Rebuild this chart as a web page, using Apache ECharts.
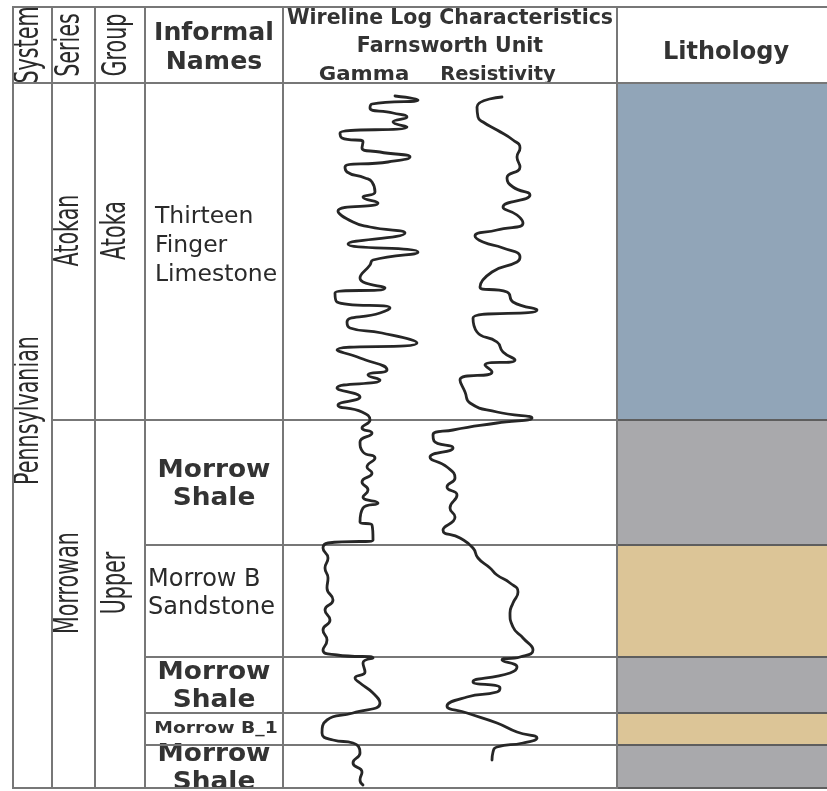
<!DOCTYPE html>
<html><head><meta charset="utf-8">
<script src="https://cdn.jsdelivr.net/npm/echarts@6/dist/echarts.min.js"></script>
<style>html,body{margin:0;padding:0;background:#fff}#c{width:827px;height:791px}</style>
</head><body><div id="c"></div>
<script>
// ---------------- DATA ----------------
const headerLabels = ['System', 'Series', 'Group', 'Informal\nNames', 'Wireline Log Characteristics\nFarnsworth Unit', 'Lithology'];
const trackLabels = ['Gamma', 'Resistivity'];

const systemNames = ['Pennsylvanian'];
const systemTops = [0];
const systemBases = [705];

const seriesNames = ['Atokan', 'Morrowan'];
const seriesTops = [0, 337];
const seriesBases = [337, 705];

const groupNames = ['Atoka', 'Upper'];
const groupTops = [0, 337];
const groupBases = [337, 705];

const formationNames = ['Thirteen\nFinger\nLimestone', 'Morrow\nShale', 'Morrow B\nSandstone', 'Morrow\nShale', 'Morrow B_1', 'Morrow\nShale'];
const formationTops = [0, 337, 462, 574, 630, 662];
const formationBases = [337, 462, 574, 630, 662, 705];
const lithology = ['Limestone', 'Shale', 'Sandstone', 'Shale', 'Sandstone', 'Shale'];

// Gamma ray log (depth below top of section, log value)
const gammaDepth = [13,17,21,25,30,34,39,44,50,55,59,65,69,74,79,84,89,95,99,109,114,120,128,139,144,150,161,169,177,182,195,205,210,219,225,230,239,245,250,260,267,275,287,292,297,305,314,322,329,337,345,350,359,369,375,384,390,399,407,414,420,425,439,442,457,460,465,475,485,495,505,517,527,537,547,557,567,572,575,580,589,595,600,610,620,630,637,650,657,660,670,680,689,697,702];
const gammaValue = [112,135,89,87,110,124,110,124,57,59,80,79,97,127,105,62,64,82,89,92,80,95,55,70,87,122,65,135,90,87,77,102,52,54,107,97,64,67,99,134,54,77,104,85,97,54,77,55,79,87,79,89,77,80,92,84,89,79,85,80,95,80,77,89,90,45,40,45,42,45,44,50,42,47,40,44,40,54,90,80,82,72,77,90,97,70,44,39,50,70,77,70,79,77,80];

// Resistivity log
const resDepth = [14,24,34,39,47,57,65,74,84,95,104,112,124,132,140,147,153,159,165,174,179,189,204,209,219,227,235,249,259,269,277,282,289,297,309,320,329,335,340,347,352,358,365,374,384,395,404,412,425,434,447,455,465,475,485,492,500,509,520,530,544,555,567,574,577,584,590,599,605,609,614,623,630,640,649,655,660,664,669,677];
const resValue = [219,194,195,200,214,230,237,234,237,224,230,247,220,234,240,214,192,200,220,237,234,209,197,224,230,254,190,194,214,220,232,202,209,177,182,187,214,249,214,170,150,151,170,147,164,172,164,174,167,172,160,177,190,195,207,214,227,235,230,227,230,240,250,237,219,234,227,190,217,214,184,164,184,214,234,254,240,214,210,209];

// ---------------- LAYOUT & STYLE ----------------
const COL = [13, 52, 95, 145, 283, 617, 827];
const LITH_COLOR = { Limestone: '#91a5b8', Shale: '#a9a9ac', Sandstone: '#dcc597' };
const NAME_KIND = ['left1', 'bold', 'left2', 'bold', 'small', 'bold'];
const TRACK_LABEL_X = [364, 498];
const SANS = "'DejaVu Sans', sans-serif";
const NARROW = "'Liberation Sans Narrow', 'DejaVu Sans Condensed', sans-serif";
const TXT = '#333';

const cells = [];
headerLabels.forEach((t, i) => cells.push({ col: i, top: -76, base: 0, text: t, kind: i < 3 ? 'rotHead' : (i === 4 ? 'wire' : (i === 3 ? 'head' : 'lithHead')) }));
systemNames.forEach((t, i) => cells.push({ col: 0, top: systemTops[i], base: systemBases[i], text: t, kind: 'rotBig' }));
seriesNames.forEach((t, i) => cells.push({ col: 1, top: seriesTops[i], base: seriesBases[i], text: t, kind: 'rot' }));
groupNames.forEach((t, i) => cells.push({ col: 2, top: groupTops[i], base: groupBases[i], text: t, kind: 'rot' }));
formationNames.forEach((t, i) => {
  cells.push({ col: 3, top: formationTops[i], base: formationBases[i], text: t, kind: NAME_KIND[i] });
  cells.push({ col: 4, top: formationTops[i], base: formationBases[i], text: '', kind: 'track' });
  cells.push({ col: 5, top: formationTops[i], base: formationBases[i], text: '', kind: 'lith', fill: LITH_COLOR[lithology[i]] });
});

function textEl(text, x, y, font, opts) {
  opts = opts || {};
  return {
    type: 'text', x: x, y: y,
    rotation: opts.rotation || 0, scaleX: opts.scaleX || 1, scaleY: opts.scaleY || 1,
    style: {
      text: text, font: font, fill: opts.fill || TXT,
      align: opts.align || 'center', verticalAlign: opts.verticalAlign || 'middle',
      lineHeight: opts.lineHeight || 28
    }
  };
}

function renderCell(params, api) {
  const c = cells[params.dataIndex];
  const y0 = api.coord([0, c.top])[1];
  const y1 = api.coord([0, c.base])[1];
  const x0 = COL[c.col];
  const x1 = c.col === 5 ? COL[6] + 8 : COL[c.col + 1];
  const cx = (x0 + x1) / 2, cy = (y0 + y1) / 2;
  const kids = [];
  kids.push({
    type: 'rect', z2: c.kind === 'lith' ? 1 : 2,
    shape: { x: x0, y: y0, width: x1 - x0, height: y1 - y0 },
    style: { fill: c.fill || 'rgba(0,0,0,0)', stroke: c.kind === 'lith' ? '#5e5e5e' : '#777777', lineWidth: 2 }
  });
  const rot = { rotation: Math.PI / 2, scaleY: 1.45, fill: '#2a2a2a' };
  const f = c.kind;
  const R = '23px ' + NARROW;
  if (f === 'rotHead') {
    kids.push(textEl(c.text, cx - 3, cy, R, rot));
  } else if (f === 'rotBig') {
    kids.push(textEl(c.text, cx - 3, cy - 25, R, rot));
  } else if (f === 'rot') {
    kids.push(textEl(c.text, cx - 4, cy - 21, R, rot));
  } else if (f === 'head') {
    kids.push(textEl(c.text, cx, cy + 3, 'bold 24px ' + SANS, { lineHeight: 29, scaleX: 1.05 }));
  } else if (f === 'lithHead') {
    kids.push(textEl(c.text, cx, cy + 8, 'bold 24px ' + SANS));
  } else if (f === 'wire') {
    kids.push(textEl(c.text, cx, y0 - 2, 'bold 20.5px ' + SANS, { verticalAlign: 'top', lineHeight: 28 }));
    kids.push(textEl(trackLabels[0], TRACK_LABEL_X[0], y1 - 8, 'bold 19px ' + SANS, { scaleX: 1.12 }));
    kids.push(textEl(trackLabels[1], TRACK_LABEL_X[1], y1 - 8, 'bold 19.5px ' + SANS));
  } else if (f === 'bold') {
    kids.push(textEl(c.text, cx, cy + 2, 'bold 24px ' + SANS, { scaleX: 1.1 }));
  } else if (f === 'left1') {
    kids.push(textEl(c.text, x0 + 10, cy - 6, '23.5px ' + SANS, { align: 'left', lineHeight: 29, fill: '#2a2a2a' }));
  } else if (f === 'left2') {
    kids.push(textEl(c.text, x0 + 3, cy - 7, '24px ' + SANS, { align: 'left', lineHeight: 28, fill: '#2a2a2a' }));
  } else if (f === 'small') {
    kids.push(textEl(c.text, cx + 2, cy, 'bold 15px ' + SANS, { scaleX: 1.25 }));
  }
  return { type: 'group', children: kids };
}

const chart = echarts.init(document.getElementById('c'), null, { renderer: 'canvas' });
chart.setOption({
  backgroundColor: '#ffffff',
  animation: false,
  grid: [
    { left: 13, top: 7, width: 814, height: 781 },
    { left: 283, top: 83, width: 334, height: 705 }
  ],
  xAxis: [
    { type: 'value', gridIndex: 0, min: 0, max: 814, show: false },
    { type: 'value', gridIndex: 1, min: 0, max: 334, show: false }
  ],
  yAxis: [
    { type: 'value', gridIndex: 0, min: -76, max: 705, inverse: true, show: false },
    { type: 'value', gridIndex: 1, min: 0, max: 705, inverse: true, show: false }
  ],
  series: [
    {
      type: 'custom', xAxisIndex: 0, yAxisIndex: 0, clip: false, z: 1,
      renderItem: renderCell,
      encode: { x: 0, y: [1, 2] },
      data: cells.map(c => [c.col, c.top, c.base])
    },
    {
      name: 'Gamma', type: 'line', xAxisIndex: 1, yAxisIndex: 1, z: 5,
      symbol: 'none', smooth: 0.55,
      lineStyle: { color: '#262626', width: 2.8, join: 'round', cap: 'round' },
      data: gammaDepth.map((d, i) => [gammaValue[i], d])
    },
    {
      name: 'Resistivity', type: 'line', xAxisIndex: 1, yAxisIndex: 1, z: 5,
      symbol: 'none', smooth: 0.55,
      lineStyle: { color: '#262626', width: 2.8, join: 'round', cap: 'round' },
      data: resDepth.map((d, i) => [resValue[i], d])
    }
  ]
});
</script></body></html>
